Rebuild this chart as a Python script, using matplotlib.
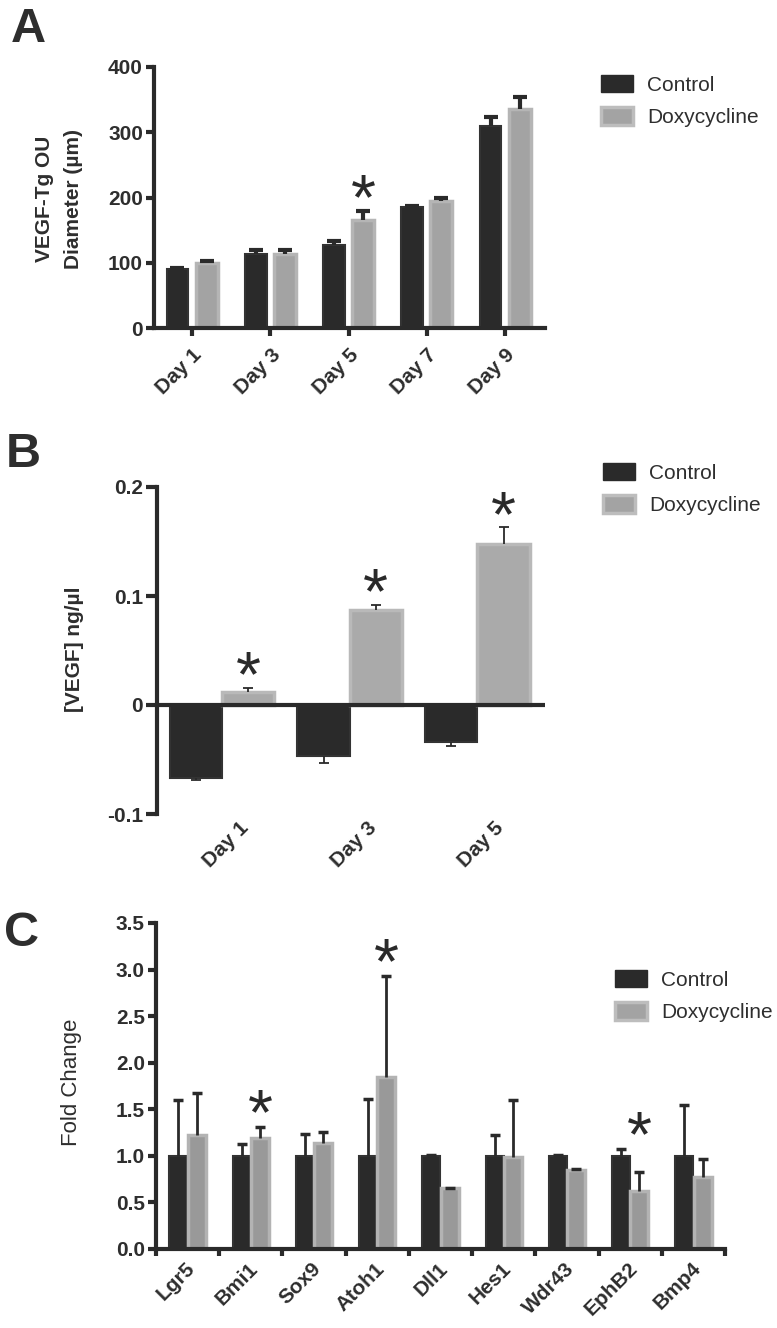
import matplotlib
matplotlib.use('Agg')
import matplotlib.pyplot as plt
import matplotlib.transforms as mtransforms
from matplotlib.patches import Patch
import numpy as np

plt.rcParams['font.family'] = ['Liberation Sans', 'DejaVu Sans']
plt.rcParams['text.color'] = '#2e2e2e'
plt.rcParams['xtick.color'] = '#2b2b2b'
plt.rcParams['ytick.color'] = '#2b2b2b'
plt.rcParams['xtick.labelcolor'] = '#2e2e2e'
plt.rcParams['ytick.labelcolor'] = '#2e2e2e'

# --- A: OU diameter
days_a = ['Day 1', 'Day 3', 'Day 5', 'Day 7', 'Day 9']
ctrl_a = [90, 113, 127, 186, 309]
ctrl_a_err = [2, 6, 6, 1, 15]
dox_a = [99, 114, 165, 194, 335]
dox_a_err = [3, 6, 14, 6, 19]
sig_a = [False, False, True, False, False]

# --- B: VEGF concentration
days_b = ['Day 1', 'Day 3', 'Day 5']
ctrl_b = [-0.067, -0.047, -0.034]
ctrl_b_err = [0.002, 0.006, 0.004]
dox_b = [0.012, 0.087, 0.148]
dox_b_err = [0.004, 0.005, 0.015]
sig_b = [True, True, True]

# --- C: gene expression
genes = ['Lgr5', 'Bmi1', 'Sox9', 'Atoh1', 'Dll1', 'Hes1', 'Wdr43', 'EphB2', 'Bmp4']
ctrl_c = [1.0, 1.0, 1.0, 1.0, 1.0, 1.0, 1.0, 1.0, 1.0]
ctrl_c_err = [0.60, 0.13, 0.24, 0.61, 0.01, 0.22, 0.01, 0.07, 0.55]
dox_c = [1.22, 1.19, 1.14, 1.85, 0.65, 0.99, 0.85, 0.62, 0.77]
dox_c_err = [0.45, 0.12, 0.12, 1.08, 0.005, 0.61, 0.005, 0.21, 0.20]
sig_c = [False, True, False, True, False, False, False, True, False]

DARK = '#2a2a2a'
W, H = 777, 1328

fig = plt.figure(figsize=(W / 100, H / 100), dpi=100)


def px_axes(left, top, right, bottom):
    return fig.add_axes([left / W, 1 - bottom / H, (right - left) / W, (bottom - top) / H])


def one_sided_err(ax, x, vals, errs, elw, cap, cthick):
    # error bar only on the side away from zero, like prism draws it
    vals = np.asarray(vals, dtype=float)
    errs = np.asarray(errs, dtype=float)
    lo = np.where(vals < 0, errs, 0)
    hi = np.where(vals >= 0, errs, 0)
    _, caps, _ = ax.errorbar(x, vals, yerr=[lo, hi], fmt='none', ecolor=DARK,
                             elinewidth=elw, capsize=cap, capthick=cthick, zorder=3)
    for c in caps:
        xd, yd = c.get_data()
        keep = np.abs(np.asarray(yd) - vals) > 0
        c.set_data(np.asarray(xd)[keep], np.asarray(yd)[keep])


def draw_pair(ax, x, off, width, ctrl, cerr, dox, derr, dox_face, dox_edge, elw, cap, cthick):
    ax.bar(x - off, ctrl, width, color=DARK, edgecolor='#333333', linewidth=1.5, zorder=2)
    ax.bar(x + off, dox, width, color=dox_face, edgecolor=dox_edge, linewidth=2.5, zorder=2)
    one_sided_err(ax, x - off, ctrl, cerr, elw, cap, cthick)
    one_sided_err(ax, x + off, dox, derr, elw, cap, cthick)


def stars(ax, x, off, ctrl, cerr, dox, derr, sig, lift):
    for i in range(len(x)):
        if not sig[i]:
            continue
        top = max(ctrl[i] + cerr[i] if ctrl[i] >= 0 else 0, dox[i] + derr[i])
        ax.annotate('*', xy=(x[i] + off, top), xytext=(0, lift), textcoords='offset points',
                    ha='center', va='center', fontsize=46, color=DARK, zorder=4)


def style(ax):
    for s in ['top', 'right']:
        ax.spines[s].set_visible(False)
    for s in ['left', 'bottom']:
        ax.spines[s].set_linewidth(3)
        ax.spines[s].set_color(DARK)
    ax.tick_params(width=3, length=6, labelsize=15, pad=2)
    for lab in ax.get_xticklabels() + ax.get_yticklabels():
        lab.set_fontweight('bold')


def shift_labels(ax, dx, dy):
    for lab in ax.get_xticklabels():
        lab.set_transform(lab.get_transform() + mtransforms.ScaledTranslation(dx / 72, dy / 72, fig.dpi_scale_trans))


def legend(ax, left, top):
    handles = [Patch(facecolor=DARK, edgecolor=DARK, label='Control'),
               Patch(facecolor='#a3a3a3', edgecolor='#bdbdbd', linewidth=2.5, label='Doxycycline')]
    ax.legend(handles=handles, loc='upper left', bbox_to_anchor=(left / W, 1 - top / H),
              bbox_transform=fig.transFigure, frameon=False, fontsize=15,
              handlelength=1.55, handleheight=0.9, handletextpad=0.65,
              labelspacing=0.6, borderpad=0, borderaxespad=0)


# ---------------- Panel A
axA = px_axes(154, 67, 545, 328)
xa = np.arange(len(days_a))
draw_pair(axA, xa, 0.186, 0.28, ctrl_a, ctrl_a_err, dox_a, dox_a_err,
          '#a3a3a3', '#b5b5b5', 3, 5, 3)
stars(axA, xa, 0.186, ctrl_a, ctrl_a_err, dox_a, dox_a_err, sig_a, 6.5)
axA.set_xlim(-0.486, 4.51)
axA.set_ylim(0, 400)
axA.set_yticks([0, 100, 200, 300, 400])
axA.set_xticks(xa)
axA.set_xticklabels(days_a, rotation=45, ha='right', va='center', rotation_mode='anchor')
style(axA)
axA.tick_params(axis='x', pad=6)
shift_labels(axA, 5, -5)
fig.text(59 / W, 1 - 199 / H, 'VEGF-Tg OU\nDiameter (µm)', rotation=90, ha='center',
         va='center', fontsize=15, fontweight='bold', linespacing=1.65)
legend(axA, 601, 75)
fig.text(11 / W, 1 - 7 / H, 'A', fontsize=35, fontweight='bold', va='top', ha='left')

# ---------------- Panel B
axB = px_axes(157, 487, 545, 814)
xb = np.arange(len(days_b))
draw_pair(axB, xb, 0.205, 0.41, ctrl_b, ctrl_b_err, dox_b, dox_b_err,
          '#aaaaaa', '#b9b9b9', 1.3, 3.5, 1.3)
stars(axB, xb, 0.205, ctrl_b, ctrl_b_err, dox_b, dox_b_err, sig_b, 6)
axB.axhline(0, color=DARK, linewidth=3, zorder=3)
axB.set_xlim(-0.51, 2.53)
axB.set_ylim(-0.1, 0.2)
axB.set_yticks([-0.1, 0, 0.1, 0.2])
axB.set_yticklabels(['-0.1', '0', '0.1', '0.2'])
axB.set_xticks(xb)
axB.set_xticklabels(days_b, rotation=45, ha='right', va='center', rotation_mode='anchor')
style(axB)
axB.spines['bottom'].set_visible(False)
axB.tick_params(axis='x', length=0, pad=8)
axB.tick_params(axis='y', length=8)
shift_labels(axB, 17, 0)
fig.text(75 / W, 1 - 649 / H, '[VEGF] ng/µl', rotation=90, ha='center', va='center',
         fontsize=15, fontweight='bold')
legend(axB, 603, 463)
fig.text(6 / W, 1 - 432 / H, 'B', fontsize=35, fontweight='bold', va='top', ha='left')

# ---------------- Panel C
axC = px_axes(156, 923, 725, 1249)
xc = np.arange(len(genes))
draw_pair(axC, xc, 0.145, 0.285, ctrl_c, ctrl_c_err, dox_c, dox_c_err,
          '#999999', '#b3b3b3', 2, 3.5, 2.5)
stars(axC, xc, 0.145, ctrl_c, ctrl_c_err, dox_c, dox_c_err, sig_c, 7)
axC.set_xlim(-0.5, 8.5)
axC.set_ylim(0, 3.5)
axC.set_yticks(np.arange(0, 3.51, 0.5))
axC.set_yticklabels(['%.1f' % v for v in np.arange(0, 3.51, 0.5)])
axC.set_xticks(xc)
axC.set_xticklabels(genes, rotation=45, ha='right', va='center', rotation_mode='anchor')
axC.set_xticks(np.arange(-0.5, 9, 1), minor=True)
style(axC)
axC.tick_params(axis='x', which='major', length=0, pad=12)
axC.tick_params(axis='x', which='minor', length=5, width=3)
shift_labels(axC, 3, 0)
fig.text(72 / W, 1 - 1082 / H, 'Fold Change', rotation=90, ha='center', va='center',
         fontsize=16)
legend(axC, 615, 970)
fig.text(4 / W, 1 - 911 / H, 'C', fontsize=35, fontweight='bold', va='top', ha='left')

fig.savefig('out.png', dpi=100)
